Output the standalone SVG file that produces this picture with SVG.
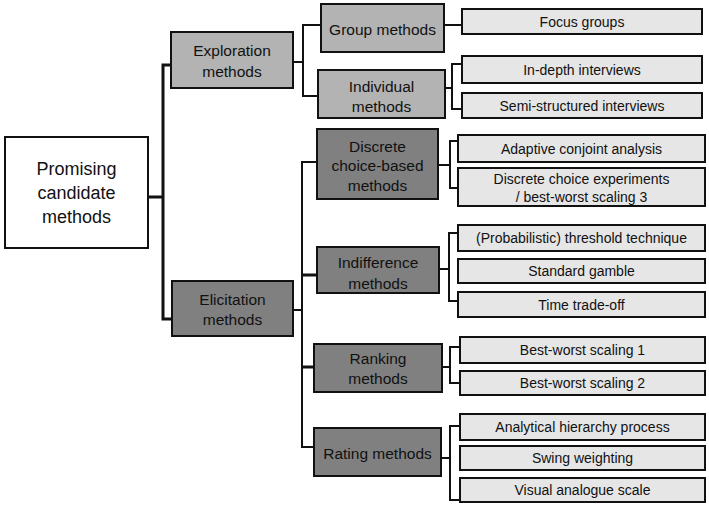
<svg xmlns="http://www.w3.org/2000/svg" width="709" height="505" viewBox="0 0 709 505">
<style>
rect{stroke:#111;stroke-width:2}
.root{fill:#fff}
.l1{fill:#b3b3b3}
.d1{fill:#808080}
.leaf{fill:#e6e6e6}
text{font-family:"Liberation Sans",Arial,sans-serif;fill:#111;text-anchor:middle;dominant-baseline:central}
.t18{font-size:18px}
.t15{font-size:15.5px}
.t13{font-size:14px}
.c{fill:none;stroke:#111;stroke-width:2}
.ct{fill:none;stroke:#111;stroke-width:3}
</style>
<rect width="709" height="505" fill="#fff" style="stroke:none"/>
<g id="connectors">
<path class="ct" d="M148,197 H163 M171,65 H163 V319 H172"/>
<path class="c" d="M293,62 H303 M321,25 H303 V96 H318"/>
<path class="c" d="M444,25 H462"/>
<path class="c" d="M445,88 H452 M462,64 H452 V109 H462"/>
<path class="c" d="M293,310 H302 M317,162 H302 V447 H314"/>
<path class="ct" d="M302,275 H317 M302,367 H314"/>
<path class="c" d="M438,165 H450 M458,141 H450 V188 H458"/>
<path class="c" d="M439,269 H449 M458,233 H449 V301 H458"/>
<path class="c" d="M442,367 H450 M460,347 H450 V383 H460"/>
<path class="c" d="M441,458 H450 M460,426 H450 V500 H460"/>
</g>
<g id="root"><rect class="root" x="5" y="137" width="143" height="111"/><text class="t18" x="76.5" y="169">Promising</text><text class="t18" x="76.5" y="193">candidate</text><text class="t18" x="76.5" y="217">methods</text></g>
<g id="exploration"><rect class="l1" x="171" y="32" width="122" height="56"/><text class="t15" x="232" y="50">Exploration</text><text class="t15" x="232" y="71">methods</text></g>
<g id="elicitation"><rect class="d1" x="172" y="281" width="121" height="55"/><text class="t15" x="232.5" y="299">Elicitation</text><text class="t15" x="232.5" y="319">methods</text></g>
<g id="group"><rect class="l1" x="321" y="4" width="123" height="48"/><text class="t15" x="382.5" y="29">Group methods</text></g>
<g id="individual"><rect class="l1" x="318" y="70" width="127" height="48"/><text class="t15" x="381.5" y="86">Individual</text><text class="t15" x="381.5" y="106">methods</text></g>
<g id="focus"><rect class="leaf" x="462" y="9" width="240" height="25"/><text class="t13" x="582" y="21.5">Focus groups</text></g>
<g id="indepth"><rect class="leaf" x="462" y="56" width="240" height="27"/><text class="t13" x="582" y="69.5">In-depth interviews</text></g>
<g id="semi"><rect class="leaf" x="462" y="93" width="240" height="25"/><text class="t13" x="582" y="105.5">Semi-structured interviews</text></g>
<g id="discrete"><rect class="d1" x="317" y="129" width="121" height="70"/><text class="t15" x="377.5" y="146">Discrete</text><text class="t15" x="377.5" y="165">choice-based</text><text class="t15" x="377.5" y="185">methods</text></g>
<g id="adaptive"><rect class="leaf" x="458" y="135" width="247" height="27"/><text class="t13" x="581.5" y="148.5">Adaptive conjoint analysis</text></g>
<g id="dce"><rect class="leaf" x="458" y="168" width="247" height="38"/><text class="t13" x="581.5" y="179">Discrete choice experiments</text><text class="t13" x="581.5" y="197">/ best-worst scaling 3</text></g>
<g id="indifference"><rect class="d1" x="317" y="247" width="122" height="46"/><text class="t15" x="378" y="262">Indifference</text><text class="t15" x="378" y="283">methods</text></g>
<g id="threshold"><rect class="leaf" x="458" y="225" width="247" height="26"/><text class="t13" x="581.5" y="238">(Probabilistic) threshold technique</text></g>
<g id="gamble"><rect class="leaf" x="458" y="259" width="247" height="24"/><text class="t13" x="581.5" y="271">Standard gamble</text></g>
<g id="tto"><rect class="leaf" x="458" y="292" width="247" height="25"/><text class="t13" x="581.5" y="304.5">Time trade-off</text></g>
<g id="ranking"><rect class="d1" x="314" y="344" width="128" height="48"/><text class="t15" x="378" y="358">Ranking</text><text class="t15" x="378" y="378">methods</text></g>
<g id="bws1"><rect class="leaf" x="460" y="337" width="245" height="26"/><text class="t13" x="582.5" y="350">Best-worst scaling 1</text></g>
<g id="bws2"><rect class="leaf" x="460" y="371" width="245" height="24"/><text class="t13" x="582.5" y="383">Best-worst scaling 2</text></g>
<g id="rating"><rect class="d1" x="314" y="428" width="127" height="48"/><text class="t15" x="377.5" y="453">Rating methods</text></g>
<g id="ahp"><rect class="leaf" x="460" y="414" width="245" height="26"/><text class="t13" x="582.5" y="427">Analytical hierarchy process</text></g>
<g id="swing"><rect class="leaf" x="460" y="446" width="245" height="24"/><text class="t13" x="582.5" y="458">Swing weighting</text></g>
<g id="vas"><rect class="leaf" x="460" y="478" width="245" height="24"/><text class="t13" x="582.5" y="490">Visual analogue scale</text></g>
</svg>
